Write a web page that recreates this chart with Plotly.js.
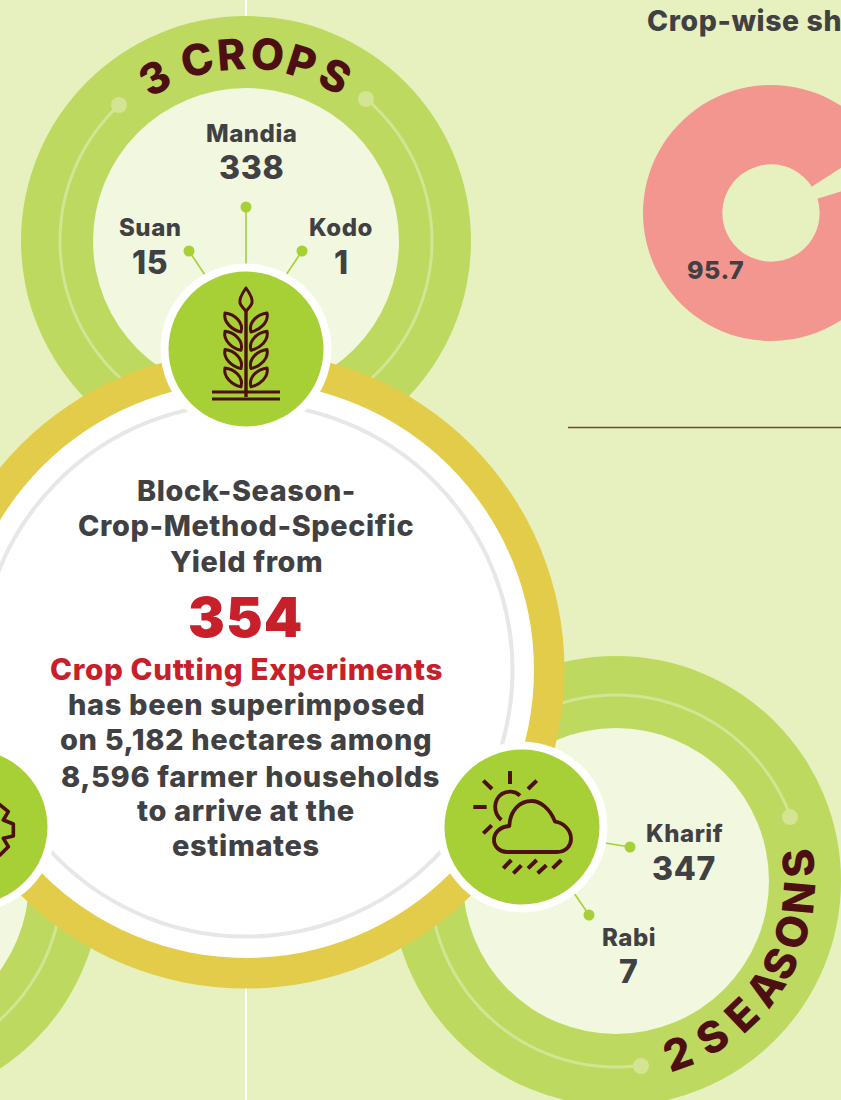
<!DOCTYPE html>
<html>
<head>
<meta charset="utf-8">
<script src="https://cdn.plot.ly/plotly-3.0.1.min.js"></script>
<style>
html,body{margin:0;padding:0;background:#E7F0BF;overflow:hidden}
#wrap{width:841px;height:1100px;overflow:hidden}
.shapelayer path{stroke-linejoin:round}
.annotation-text{letter-spacing:.022em}
</style>
</head>
<body>
<div id="wrap"><div id="chart"></div></div>
<script>
// ---- data ----
var cropNames = ["Mandia", "Suan", "Kodo"];
var cropCounts = [338, 15, 1];
var seasonNames = ["Kharif", "Rabi"];
var seasonCounts = [347, 7];
var shareLabels = ["Mandia", "Other"];
var shareValues = [95.7, 4.3];
var experimentCount = 354;
var headLines = ["Block-Season-", "Crop-Method-Specific", "Yield from"];
var bodyLines = ["has been superimposed", "on 5,182 hectares among", "8,596 farmer households", "to arrive at the", "estimates"];
var redLine = "Crop Cutting Experiments";
var chartTitle = "Crop-wise sh";
var ringOneLetters = ["3", "C", "R", "O", "P", "S"];
var ringTwoLetters = ["2", "S", "E", "A", "S", "O", "N", "S"];

// ---- palette ----
var BG = "#E7F0BF", RING = "#BDD960", DISC = "#F2F7E0", THIN = "#D3E492", YELLOW = "#E3CC4A",
    GREEN = "#A6D035", MAROON = "#4D0F12", GREY = "#E6E7E8", INK = "#414042", RED = "#C7202A", PINK = "#F49690";

// ---- helpers ----
var shapes = [], notes = [];
function circle(cx, cy, r, fill) {
  shapes.push({type: "circle", xref: "x", yref: "y", x0: cx - r, x1: cx + r, y0: cy - r, y1: cy + r,
    fillcolor: fill, line: {width: 0}, layer: "above"});
}
function ringLine(cx, cy, r, color, w) {
  shapes.push({type: "circle", xref: "x", yref: "y", x0: cx - r, x1: cx + r, y0: cy - r, y1: cy + r,
    fillcolor: "rgba(0,0,0,0)", line: {width: w, color: color}, layer: "above"});
}
function path(d, color, w, fill) {
  shapes.push({type: "path", xref: "x", yref: "y", path: d, fillcolor: fill || "rgba(0,0,0,0)",
    line: {width: w, color: color}, layer: "above"});
}
function line(x0, y0, x1, y1, color, w) { path("M" + x0 + "," + y0 + "L" + x1 + "," + y1, color, w); }
function arc(cx, cy, r, from, to, color, w) {
  var d = "", n = Math.ceil(Math.abs(to - from));
  for (var i = 0; i <= n; i++) {
    var a = (from + (to - from) * i / n) * Math.PI / 180;
    d += (i ? "L" : "M") + (cx + r * Math.sin(a)).toFixed(2) + "," + (cy - r * Math.cos(a)).toFixed(2);
  }
  path(d, color, w);
}
function icon(d, ox, oy) {
  var i = 0;
  return d.replace(/-?\d+(\.\d+)?/g, function (m) {
    var v = parseFloat(m) / 3 + (i++ % 2 ? oy : ox);
    return v.toFixed(2);
  });
}
function text(t, x, y, size, color, weight, extra) {
  var a = {text: String(t), xref: "x", yref: "y", x: x, y: y, showarrow: false, xanchor: "center", yanchor: "middle",
    font: {family: "Inter, 'Open Sans', sans-serif", size: size, color: color, weight: weight || 800}};
  if (extra) for (var k in extra) a[k] = extra[k];
  notes.push(a);
}

// ---- backdrop lines ----
line(246, 0, 246, 1100, "#FFFFFF", 2);
line(568, 427.5, 1000, 427.5, "#6B4A2C", 1.6);

// ---- three outer rings ----
[[246, 241], [616, 881], [-124, 881]].forEach(function (c) {
  circle(c[0], c[1], 225, RING);
  circle(c[0], c[1], 153, DISC);
});
arc(246, 241, 186, -43, -150, THIN, 3);
arc(246, 241, 186, 40, 150, THIN, 3);
circle(119, 105, 8, THIN);
circle(366, 99, 8, THIN);
arc(616, 881, 186, 70, -80, THIN, 3);
arc(616, 881, 186, 172, 285, THIN, 3);
circle(790, 817, 8, THIN);
circle(641, 1066, 8, THIN);
arc(-124, 881, 186, 30, 175, THIN, 3);

// ---- centre disc ----
circle(246, 670, 318.5, YELLOW);
circle(246, 670, 288, "#FFFFFF");
ringLine(246, 670, 266.5, GREY, 4);

// ---- connectors ----
line(246, 207, 246, 265, GREEN, 1.6);
line(189, 251, 205, 275, GREEN, 1.6);
line(302, 251, 286, 275, GREEN, 1.6);
line(630, 847, 605, 843, GREEN, 1.6);
line(589, 915, 574, 893, GREEN, 1.6);
[[246, 207], [189, 251], [302, 251], [630, 847], [589, 915]].forEach(function (p) { circle(p[0], p[1], 5.5, GREEN); });

// ---- icon badges ----
[[246, 349], [522, 827], [-30, 827]].forEach(function (c) {
  circle(c[0], c[1], 85.5, "#FFFFFF");
  circle(c[0], c[1], 77.5, GREEN);
});

// wheat
path("M246,310L246,397", MAROON, 3.4);
path("M246,288C241,295 239,299 240,303C241,306 244,309 246,311C248,309 251,306 252,303C253,299 251,295 246,288Z", MAROON, 3);
[0, 18.3, 36.6, 54.9].forEach(function (dy) {
  var y = function (v) { return (v + dy).toFixed(1); };
  path("M241," + y(332) + "C232," + y(330) + " 223," + y(322) + " 225," + y(313) + "C234," + y(314) + " 244," + y(322) + " 241," + y(332) + "Z", MAROON, 3);
  path("M251," + y(332) + "C260," + y(330) + " 269," + y(322) + " 267," + y(313) + "C258," + y(314) + " 248," + y(322) + " 251," + y(332) + "Z", MAROON, 3);
});
line(212, 392, 280, 392, MAROON, 3.2);
line(212, 399, 280, 399, MAROON, 3.2);

// weather
var W = [400, 650];
path(icon("M320 606 L470 606 C500 606 513 585 513 566 C513 540 490 518 465 515 C450 475 420 453 395 453 C360 453 330 480 328 528 C300 530 282 548 282 570 C282 590 300 606 320 606 Z", W[0], W[1]), MAROON, 3.8);
path(icon("M360 437 C345 422 322 422 305 432 C283 448 276 485 304 510", W[0], W[1]), MAROON, 3.8);
[[330, 363, 330, 402], [250, 392, 276, 417], [410, 392, 384, 417], [220, 471, 260, 471], [250, 550, 275, 526],
 [310, 655, 334, 630], [340, 670, 364, 646], [384, 655, 410, 630], [413, 670, 439, 646], [458, 655, 484, 630]].forEach(function (s) {
  path(icon("M" + s[0] + " " + s[1] + " L" + s[2] + " " + s[3], W[0], W[1]), MAROON, 4);
});

// gear (mostly outside the frame)
path(icon("M-40 190 L0 225 L25 245 L10 270 L40 282 L40 318 L10 325 L25 350 L0 375 L-40 400", 0, 730), MAROON, 3.6);

// ---- curved ring titles ----
var ringOneAngles = [-29, -15, -4.3, 6.8, 17.6, 28.6];
ringOneLetters.forEach(function (ch, i) {
  var a = ringOneAngles[i] * Math.PI / 180;
  text(ch, 246 + 188 * Math.sin(a), 241 - 188 * Math.cos(a), 43, MAROON, 800, {textangle: ringOneAngles[i]});
});
var ringTwoAngles = [19.8, 31.9, 43.5, 54.7, 63.5, 74, 85, 95.6];
ringTwoLetters.forEach(function (ch, i) {
  var a = ringTwoAngles[i] * Math.PI / 180;
  text(ch, 616 + 183 * Math.sin(a), 881 + 183 * Math.cos(a), 43, MAROON, 800, {textangle: -ringTwoAngles[i]});
});

// ---- counts ----
var cropSpots = [[251, 133.5, 167.5], [150, 227.5, 262.5], [341, 227.5, 262.5]];
cropNames.forEach(function (n, i) {
  text(n, cropSpots[i][0], cropSpots[i][1], 24, INK);
  text(cropCounts[i], cropSpots[i][0], cropSpots[i][2], 32, INK);
});
var seasonSpots = [[684, 833.5, 868.5], [629, 937.5, 971.5]];
seasonNames.forEach(function (n, i) {
  text(n, seasonSpots[i][0], seasonSpots[i][1], 24, INK);
  text(seasonCounts[i], seasonSpots[i][0], seasonSpots[i][2], 32, INK);
});

// ---- centre text ----
[490.5, 525.5, 561.5].forEach(function (y, i) { text(headLines[i], 246, y, 28.8, INK); });
text(experimentCount, 246, 616.5, 55, RED, 900);
text(redLine, 246, 668.5, 29.6, RED);
[[246, 704.5], [246, 739.5], [250, 776.5], [246, 810.5], [246, 845.5]].forEach(function (p, i) { text(bodyLines[i], p[0], p[1], 29, INK); });

// ---- right-hand panel ----
text(chartTitle, 645, 20, 28.4, INK, 800, {xanchor: "left"});
text(shareValues[0], 715, 270, 25, INK);

var donut = {
  type: "pie", labels: shareLabels, values: shareValues, sort: false, direction: "clockwise", rotation: 72.8,
  hole: 0.38, textinfo: "none", hoverinfo: "skip", showlegend: false,
  marker: {colors: [PINK, BG], line: {width: 0}},
  domain: {x: [643 / 1000, 899 / 1000], y: [1 - 341 / 1100, 1 - 85 / 1100]}
};
var anchor = {type: "scatter", x: [0], y: [0], mode: "none", hoverinfo: "skip", showlegend: false};

Plotly.newPlot("chart", [anchor, donut], {
  width: 1000, height: 1100, margin: {l: 0, r: 0, t: 0, b: 0}, paper_bgcolor: BG, plot_bgcolor: BG, showlegend: false,
  xaxis: {range: [0, 1000], visible: false, fixedrange: true},
  yaxis: {range: [1100, 0], visible: false, fixedrange: true},
  shapes: shapes, annotations: notes
}, {staticPlot: true, displayModeBar: false});
</script>
</body>
</html>
